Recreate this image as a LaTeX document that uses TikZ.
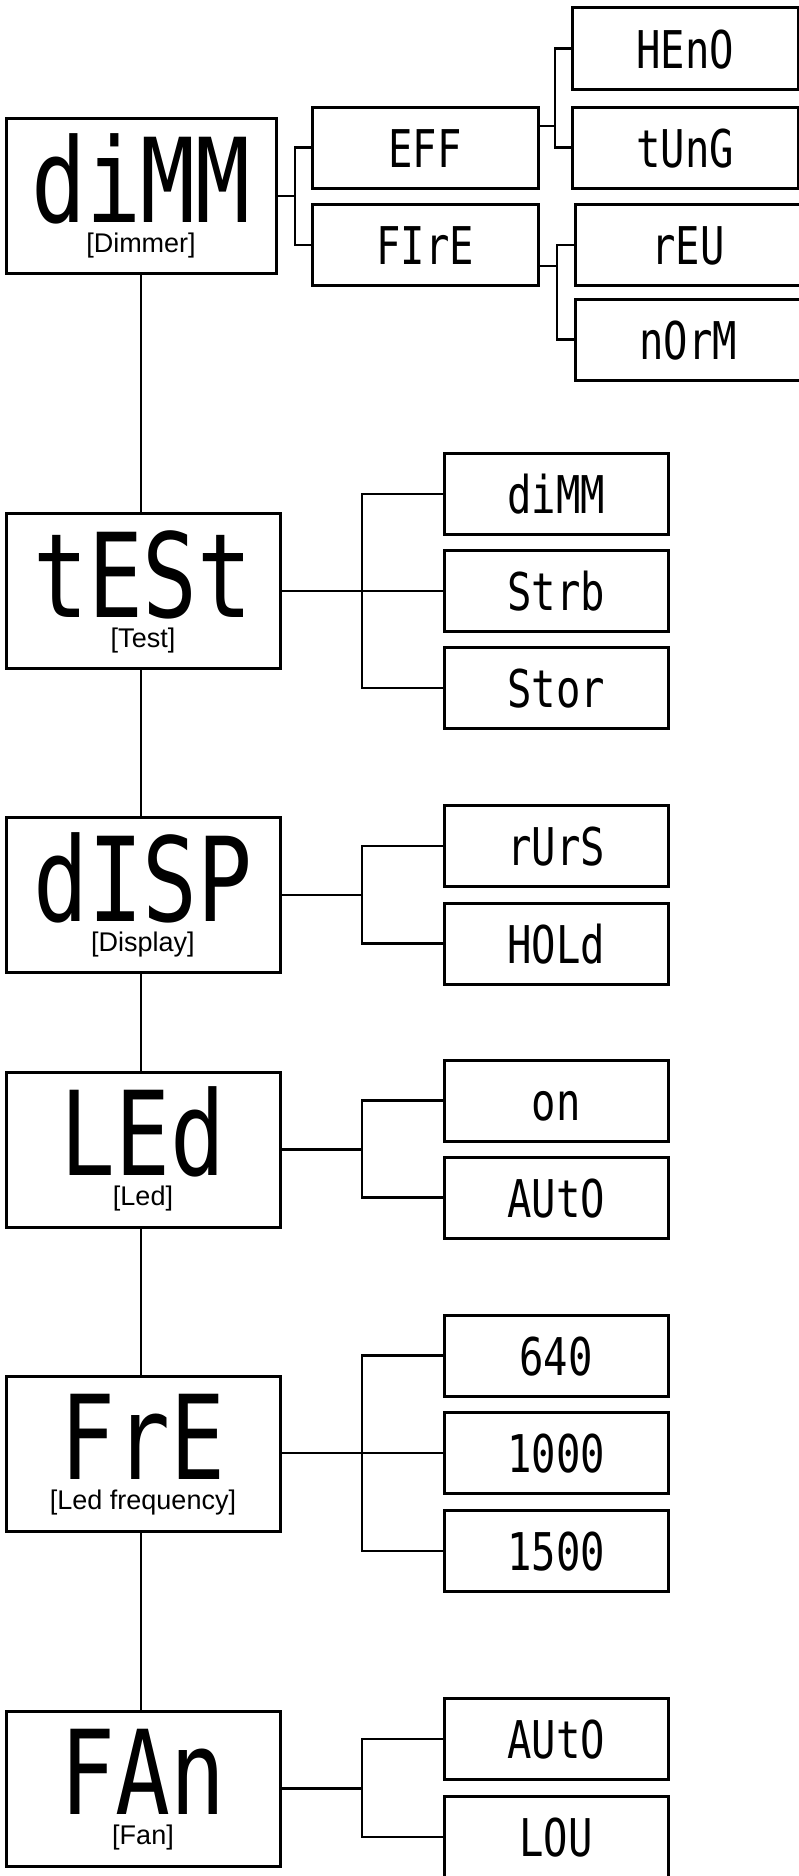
\documentclass[tikz,border=0pt]{standalone}
\usepackage{fontspec}
\setmainfont{Liberation Sans}
\newfontfamily\segfont{DejaVu Sans Mono}[FakeStretch=0.78]
\begin{document}
\begin{tikzpicture}[x=1pt,y=-1pt,
  mainbox/.style={draw, line width=3pt, minimum width=274pt, minimum height=155pt, inner sep=0pt},
  subbox/.style={draw, line width=3pt, minimum width=224pt, minimum height=81pt, inner sep=0pt},
  bigseg/.style={font=\segfont\fontsize{117}{117}\selectfont, anchor=base, inner sep=0pt},
  smallseg/.style={font=\segfont\fontsize{52}{52}\selectfont, anchor=base, inner sep=0pt},
  caption/.style={font=\fontsize{27}{27}\selectfont, anchor=base, inner sep=0pt},
  conn/.style={line width=2.5pt}]
\useasboundingbox (0,0) rectangle (798,1876);

% main boxes
\node[mainbox, minimum width=270pt] (mDimm) at (141,196) {};
\node[bigseg] (tDimm) at (141,222) {diMM};
\node[caption] (cDimm) at (141,252) {[Dimmer]};

\node[mainbox] (mTest) at (143,591) {};
\node[bigseg] (tTest) at (143,617) {tESt};
\node[caption] (cTest) at (143,647) {[Test]};

\node[mainbox] (mDisp) at (143,895) {};
\node[bigseg] (tDisp) at (143,921) {dISP};
\node[caption] (cDisp) at (143,951) {[Display]};

\node[mainbox] (mLed) at (143,1149.5) {};
\node[bigseg] (tLed) at (143,1175.5) {LEd};
\node[caption] (cLed) at (143,1205.5) {[Led]};

\node[mainbox] (mFre) at (143,1453.5) {};
\node[bigseg] (tFre) at (143,1479.5) {FrE};
\node[caption] (cFre) at (143,1509.5) {[Led frequency]};

\node[mainbox] (mFan) at (143,1788.5) {};
\node[bigseg] (tFan) at (143,1814.5) {FAn};
\node[caption] (cFan) at (143,1844.5) {[Fan]};

% dimmer subtree
\node[subbox, minimum width=226pt] (sEff) at (425,147.5) {};
\node[smallseg] (lEff) at (425,167) {EFF};
\node[subbox, minimum width=226pt] (sFire) at (425,245) {};
\node[smallseg] (lFire) at (425,264.5) {FIrE};
\node[subbox, minimum width=226pt] (sHeno) at (685,48.5) {};
\node[smallseg] (lHeno) at (685,68) {HEnO};
\node[subbox, minimum width=226pt] (sTung) at (685,147.5) {};
\node[smallseg] (lTung) at (685,167) {tUnG};
\node[subbox, minimum width=226pt] (sRev) at (688,245) {};
\node[smallseg] (lRev) at (688,264.5) {rEU};
\node[subbox, minimum width=226pt] (sNorm) at (688,339.5) {};
\node[smallseg] (lNorm) at (688,359) {nOrM};

% test subtree
\node[subbox] (sDimm) at (556,494) {};
\node[smallseg] (lDimm) at (556,513.5) {diMM};
\node[subbox] (sStrb) at (556,591) {};
\node[smallseg] (lStrb) at (556,610.5) {Strb};
\node[subbox] (sStor) at (556,688) {};
\node[smallseg] (lStor) at (556,707.5) {Stor};

% display subtree
\node[subbox] (sRurs) at (556,846) {};
\node[smallseg] (lRurs) at (556,865.5) {rUrS};
\node[subbox] (sHold) at (556,943.5) {};
\node[smallseg] (lHold) at (556,963) {HOLd};

% led subtree
\node[subbox] (sOn) at (556,1100.5) {};
\node[smallseg] (lOn) at (556,1120) {on};
\node[subbox] (sAuto) at (556,1197.5) {};
\node[smallseg] (lAuto) at (556,1217) {AUtO};

% frequency subtree
\node[subbox] (sSix) at (556,1355.5) {};
\node[smallseg] (lSix) at (556,1375) {640};
\node[subbox] (sThou) at (556,1453) {};
\node[smallseg] (lThou) at (556,1472.5) {1000};
\node[subbox] (sFift) at (556,1551) {};
\node[smallseg] (lFift) at (556,1570.5) {1500};

% fan subtree
\node[subbox] (sFauto) at (556,1739) {};
\node[smallseg] (lFauto) at (556,1758.5) {AUtO};
\node[subbox] (sLow) at (556,1837) {};
\node[smallseg] (lLow) at (556,1856.5) {LOU};

% trunk
\draw[conn] (mDimm.south) -- (mDimm.south |- mTest.north);
\draw[conn] (mDimm.south |- mTest.south) -- (mDimm.south |- mDisp.north);
\draw[conn] (mDimm.south |- mDisp.south) -- (mDimm.south |- mLed.north);
\draw[conn] (mDimm.south |- mLed.south) -- (mDimm.south |- mFre.north);
\draw[conn] (mDimm.south |- mFre.south) -- (mDimm.south |- mFan.north);

% brackets
\coordinate (b1) at (295,196);
\draw[conn] (mDimm.east) -- (b1);
\draw[conn] (sEff.west) -| (b1) |- (sFire.west);

\coordinate (b2) at (555,126);
\draw[conn] (sEff.east |- b2) -- (b2);
\draw[conn] (sHeno.west) -| (b2) |- (sTung.west);

\coordinate (b3) at (557,266);
\draw[conn] (sFire.east |- b3) -- (b3);
\draw[conn] (sRev.west) -| (b3) |- (sNorm.west);

\coordinate (b4) at (362,591);
\draw[conn] (mTest.east) -- (sStrb.west);
\draw[conn] (sDimm.west) -| (b4) |- (sStor.west);

\coordinate (b5) at (362,895);
\draw[conn] (mDisp.east) -- (b5);
\draw[conn] (sRurs.west) -| (b5) |- (sHold.west);

\coordinate (b6) at (362,1149.5);
\draw[conn] (mLed.east) -- (b6);
\draw[conn] (sOn.west) -| (b6) |- (sAuto.west);

\coordinate (b7) at (362,1453);
\draw[conn] (mFre.east |- sThou.west) -- (sThou.west);
\draw[conn] (sSix.west) -| (b7) |- (sFift.west);

\coordinate (b8) at (362,1788.5);
\draw[conn] (mFan.east) -- (b8);
\draw[conn] (sFauto.west) -| (b8) |- (sLow.west);
\end{tikzpicture}
\end{document}
